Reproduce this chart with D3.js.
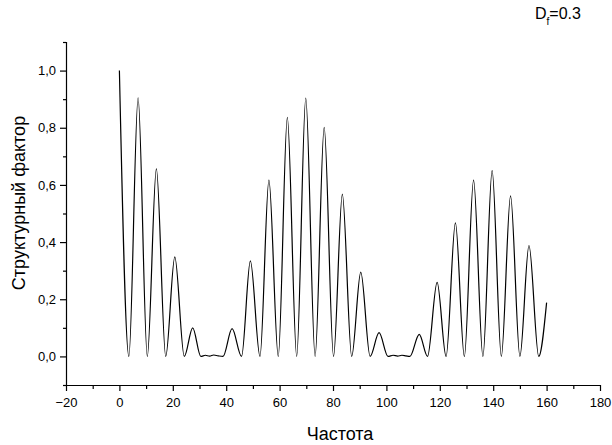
<!DOCTYPE html>
<html>
<head>
<meta charset="utf-8">
<script src="https://cdn.jsdelivr.net/npm/d3@7/dist/d3.min.js"></script>
<style>
	body { margin: 0; background: #fff; }
	text { font-family: "Liberation Sans", Arial, sans-serif; }
</style>
</head>
<body>
<div id="chart"></div>
<script>

// key points: maxima, zeros, and the flat stretches between the groups
var freq = [0, 3.55, 7.0, 10.45, 13.85, 17.35, 20.75, 24.3, 27.45, 30.5,
	32.2, 33.8, 35.3, 37.0, 38.8, 42.2, 45.75, 49.05, 52.65, 56.0,
	59.5, 62.9, 66.4, 69.8, 73.3, 76.7, 80.2, 83.5, 87.0, 90.4,
	93.9, 97.25, 100.6, 102.5, 104.2, 105.8, 107.3, 108.8, 112.3, 115.4,
	119.0, 122.35, 125.85, 129.2, 132.65, 136.15, 139.6, 143.05, 146.5, 150.0,
	153.4, 157.05, 160]
var factor = [1.0, 0, 0.905, 0, 0.656, 0, 0.348, 0, 0.100, 0,
	0.004, 0.001, 0.005, 0.002, 0, 0.097, 0, 0.334, 0, 0.617,
	0, 0.836, 0, 0.904, 0, 0.801, 0, 0.568, 0, 0.295,
	0, 0.083, 0, 0.004, 0.001, 0.004, 0.002, 0, 0.077, 0,
	0.259, 0, 0.467, 0, 0.617, 0, 0.650, 0, 0.562, 0,
	0.388, 0, 0.188]

var xMajor = [-20, 0, 20, 40, 60, 80, 100, 120, 140, 160, 180]
var xMinor = [-10, 10, 30, 50, 70, 90, 110, 130, 150, 170]
var yMajor = [0, 0.2, 0.4, 0.6, 0.8, 1.0]
var yMinor = [-0.1, 0.1, 0.3, 0.5, 0.7, 0.9, 1.1]

var width = 612,
	height = 445

var xScale = d3.scaleLinear()
				.domain([-20, 180])
				.range([66, 600])

var yScale = d3.scaleLinear()
				.domain([-0.1, 1.1])
				.range([385, 42])

var svg = d3.select("#chart").append("svg")
			.attr("width", width)
			.attr("height", height)

var fmt = function(d){ return d3.format(".1f")(d).replace(".", ",") }

// x axis
svg.append("g")
	.attr("transform", "translate(0,385)")
	.call(d3.axisBottom(xScale).tickValues(xMinor).tickSize(4).tickSizeOuter(0).tickFormat(""))
	.call(function(g){ g.select(".domain").remove() })

svg.append("g")
	.attr("transform", "translate(0,385)")
	.call(d3.axisBottom(xScale).tickValues(xMajor).tickSize(6).tickSizeOuter(0).tickPadding(7).tickFormat(d3.format("d")))
	.call(function(g){
		g.select(".domain").attr("d", "M63.5,0.5H600.5")
		g.selectAll("text").attr("font-size", 13).attr("fill", "#000").attr("font-family", "Liberation Sans, Arial, sans-serif")
	})

// y axis
svg.append("g")
	.attr("transform", "translate(66,0)")
	.call(d3.axisLeft(yScale).tickValues(yMinor).tickSize(3).tickSizeOuter(0).tickFormat(""))
	.call(function(g){ g.select(".domain").remove() })

svg.append("g")
	.attr("transform", "translate(66,0)")
	.call(d3.axisLeft(yScale).tickValues(yMajor).tickSize(6).tickSizeOuter(0).tickPadding(4).tickFormat(fmt))
	.call(function(g){
		g.select(".domain").attr("d", "M0.5,42V385.5")
		g.selectAll("text").attr("font-size", 13).attr("fill", "#000").attr("font-family", "Liberation Sans, Arial, sans-serif")
	})

svg.selectAll(".tick line").attr("stroke", "#000").attr("stroke-width", 1.2)
svg.selectAll(".domain").attr("stroke", "#000").attr("stroke-width", 1.2)

// curve
var pts = freq.map(function(f, i){ return [f, factor[i]] })

var line = d3.line()
	.x(function(d){ return xScale(d[0]) })
	.y(function(d){ return yScale(d[1]) })
	.curve(d3.curveMonotoneX)

svg.append("path")
	.datum(pts)
	.attr("d", line)
	.attr("fill", "none")
	.attr("stroke", "#000")
	.attr("stroke-width", 1.2)

// labels
svg.append("text")
	.attr("x", 340)
	.attr("y", 440)
	.attr("text-anchor", "middle")
	.attr("font-size", 18)
	.text("Частота")

svg.append("text")
	.attr("transform", "translate(25,203) rotate(-90)")
	.attr("text-anchor", "middle")
	.attr("font-size", 18)
	.text("Структурный фактор")

var title = svg.append("text")
	.attr("x", 535)
	.attr("y", 19)
	.attr("font-size", 16)
title.append("tspan").text("D")
title.append("tspan").attr("font-size", 10).attr("dy", 6).text("f")
title.append("tspan").attr("dy", -6).text("=0.3")

</script>
</body>
</html>
